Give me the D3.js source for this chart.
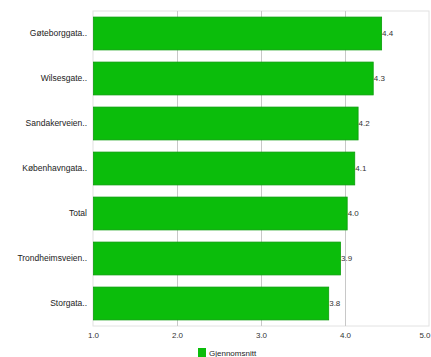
<!DOCTYPE html>
<html>
<head>
<meta charset="utf-8">
<script src="https://cdn.jsdelivr.net/npm/d3@7"></script>
<style>
body { margin: 0; background: #fff; }
svg text { font-family: "Liberation Sans", Arial, sans-serif; }
</style>
</head>
<body>
<div id="chart"></div>
<script>
// data
var categories = ["Gøteborggata..", "Wilsesgate..", "Sandakerveien..", "Københavngata..", "Total", "Trondheimsveien..", "Storgata.."]
var values = [4.43, 4.33, 4.15, 4.11, 4.02, 3.94, 3.80]
var valueLabels = ["4.4", "4.3", "4.2", "4.1", "4.0", "3.9", "3.8"]
var xTicks = [1, 2, 3, 4, 5]
var seriesName = "Gjennomsnitt"

var W = 431, H = 357
var m = {top: 11, right: 2, bottom: 31, left: 93}

var svg = d3.select('#chart').append('svg')
	.attr('width', W).attr('height', H)

var x = d3.scaleLinear().domain([1, 5]).range([m.left, W - m.right])
var y = d3.scaleBand().domain(categories).range([m.top, H - m.bottom]).paddingInner(0.27).paddingOuter(0.135)

// frame + grid
svg.append('rect')
	.attr('x', m.left).attr('y', m.top)
	.attr('width', x(5) - x(1)).attr('height', H - m.bottom - m.top)
	.attr('fill', 'none').attr('stroke', '#e2e2e2')

svg.append('g').selectAll('line').data(xTicks.slice(1, -1)).join('line')
	.attr('x1', d => x(d) + 0.5).attr('x2', d => x(d) + 0.5)
	.attr('y1', m.top).attr('y2', H - m.bottom)
	.attr('stroke', '#c8c8c8')

// bars
svg.append('g').selectAll('rect').data(values).join('rect')
	.attr('x', x(1) + 0.5)
	.attr('y', (d, i) => y(categories[i]))
	.attr('width', d => x(d) - x(1))
	.attr('height', y.bandwidth())
	.attr('fill', '#0bbd0b')
	.attr('stroke', '#0a9e0a').attr('stroke-width', 0.8)

// value labels
svg.append('g').selectAll('text').data(values).join('text')
	.attr('x', d => x(d) + 1)
	.attr('y', (d, i) => y(categories[i]) + y.bandwidth() / 2)
	.attr('dy', '0.35em')
	.attr('font-size', 8).attr('fill', '#333')
	.text((d, i) => valueLabels[i])

// category axis
var ya = svg.append('g')
	.attr('transform', 'translate(' + (m.left - 6) + ',0)')
	.call(d3.axisLeft(y).tickSize(0).tickPadding(0))
ya.select('.domain').remove()
ya.selectAll('text').attr('font-size', 8.5).attr('fill', '#222')

// value axis
var xa = svg.append('g')
	.attr('transform', 'translate(0,' + (H - m.bottom + 6) + ')')
	.call(d3.axisBottom(x).tickValues(xTicks).tickFormat(d3.format('.1f')).tickSize(0).tickPadding(0))
xa.select('.domain').remove()
xa.selectAll('text').attr('font-size', 8).attr('fill', '#333')
// last tick sits at the right edge, keep it inside
xa.selectAll('.tick').filter(d => d === 5).select('text')
	.attr('text-anchor', 'end').attr('x', m.right - 1)

// legend
var lg = svg.append('g').attr('transform', 'translate(198,348)')
lg.append('rect').attr('width', 8).attr('height', 9).attr('fill', '#0bbd0b')
lg.append('text').attr('x', 11).attr('y', 5).attr('dy', '0.35em')
	.attr('font-size', 8).attr('fill', '#222').text(seriesName)
</script>
</body>
</html>
